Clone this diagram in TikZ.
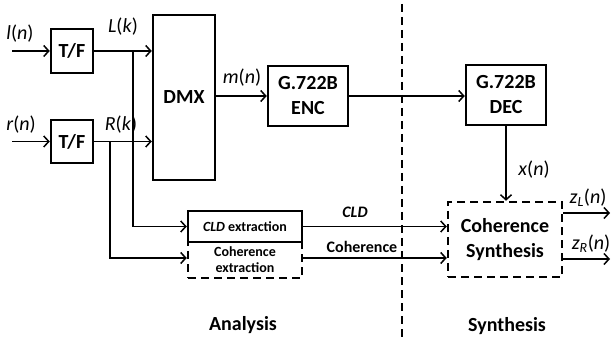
\documentclass[tikz,border=0pt]{standalone}
\usepackage{fontspec}
\setmainfont{Carlito}
\usetikzlibrary{arrows.meta,calc}
\begin{document}
\begin{tikzpicture}[x=1pt,y=-1pt,
  >={Straight Barb[length=5pt,width=11pt]},
  blk/.style={draw, line width=2.5pt, inner sep=0pt, align=center,
    font=\fontsize{20}{25}\selectfont\bfseries},
  dblk/.style={blk, dash pattern=on 8pt off 5pt},
  small/.style={font=\fontsize{14}{16}\selectfont\bfseries},
  conn/.style={line width=1.5pt},
  sig/.style={inner sep=0pt, font=\fontsize{20}{24}\selectfont},
  tag/.style={inner sep=0pt, font=\fontsize{16}{19}\selectfont\bfseries},
  side/.style={inner sep=0pt, font=\fontsize{20}{24}\selectfont\bfseries},
]
\useasboundingbox (0,0) rectangle (611,342);

% processing blocks
\node[blk, minimum width=42pt, minimum height=44pt] (tf1) at (72,51) {T/F};
\node[blk, minimum width=42pt, minimum height=43pt] (tf2) at (72,141.5) {T/F};
\node[blk, minimum width=62pt, minimum height=165pt] (dmx) at (184,97.5) {DMX};
\node[blk, minimum width=80pt, minimum height=60pt] (enc) at (308,96) {G.722B\\ENC};
\node[blk, minimum width=80pt, minimum height=60pt] (dec) at (506,95) {G.722B\\DEC};
\node[blk, small, minimum width=114pt, minimum height=31pt] (cld) at (245,226.5) {\textit{CLD} extraction};
\node[dblk, small, minimum width=114pt, minimum height=36pt] (coh) at (245,260) {Coherence\\extraction};
\node[dblk, minimum width=114pt, minimum height=75pt] (syn) at (505,239.5) {Coherence\\Synthesis};

% signal labels
\node[sig] (ln) at (20,34) {\textit{l}(\textit{n})};
\node[sig] (rn) at (21,125) {\textit{r}(\textit{n})};
\node[sig] (lk) at (123,27) {\textit{L}(\textit{k})};
\node[sig] (rk) at (121,125) {\textit{R}(\textit{k})};
\node[sig] (mn) at (242,78) {\textit{m}(\textit{n})};
\node[sig] (xn) at (534,170) {\textit{x}(\textit{n})};
\node[sig] (zln) at (588,198) {\textit{z}\textsubscript{\textit{L}}(\textit{n})};
\node[sig] (zrn) at (591,244) {\textit{z}\textsubscript{\textit{R}}(\textit{n})};
\node[tag] (cldlbl) at (355,212) {\textit{CLD}};
\node[tag] (cohlbl) at (362,247) {Coherence};
\node[side] (ana) at (243,325) {Analysis};
\node[side] (synlbl) at (507,326) {Synthesis};

% free ends and branch points
\coordinate (lin) at (12,51);
\coordinate (rin) at (12,141.5);
\coordinate (jl) at (133,51);
\coordinate (jr) at (110,141.5);
\coordinate (zl) at (610,213);
\coordinate (zr) at (610,259);
\coordinate (cohout) at ($(coh.east)+(0,-2)$);
\coordinate (cohin) at ($(coh.west)+(0,-2)$);
\coordinate (divtop) at (402,4);
\coordinate (divbot) at (402,342);

% connectors
\draw[conn,->] (lin) -- (tf1.west);
\draw[conn,->] (rin) -- (tf2.west);
\draw[conn,->] (tf1.east) -- (tf1.east -| dmx.west);
\draw[conn,->] (tf2.east) -- (tf2.east -| dmx.west);
\draw[conn,->] (jl) |- (cld.west);
\draw[conn,->] (jr) |- (cohin);
\draw[conn,->] (dmx.east |- enc.west) -- (enc.west);
\draw[conn,->] (enc.east) -- (enc.east -| dec.west);
\draw[conn,->] (dec.south) -- (dec.south |- syn.north);
\draw[conn,->] (cld.east) -- (cld.east -| syn.west);
\draw[conn,->] (cohout) -- (cohout -| syn.west);
\draw[conn,->] (syn.east |- zl) -- (zl);
\draw[conn,->] (syn.east |- zr) -- (zr);

% analysis / synthesis divider
\draw[line width=1.5pt, dash pattern=on 8pt off 5pt] (divtop) -- (divbot);
\end{tikzpicture}
\end{document}
